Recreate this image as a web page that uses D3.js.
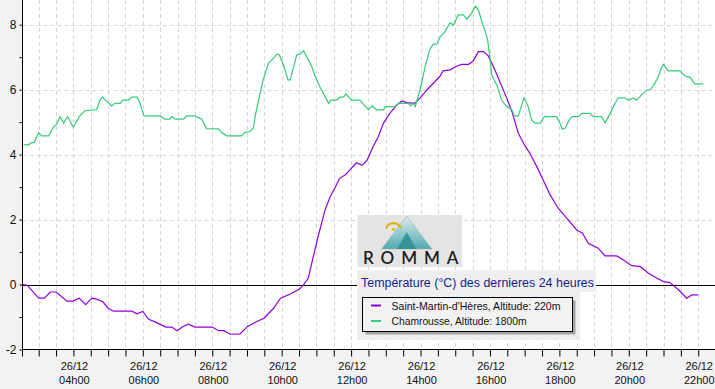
<!DOCTYPE html>
<html>
<head>
<meta charset="utf-8">
<script src="https://cdn.jsdelivr.net/npm/d3@7"></script>
<style>
  body { margin: 0; background: #f2f2f2; }
  svg { display: block; font-family: "Liberation Sans", Arial, sans-serif; }
</style>
</head>
<body>
<div id="chart"></div>
<script>
// data (time "HH:MM", temperature °C)
var smhTimes = ["02:33","02:40","03:00","03:10","03:20","03:30","03:49","03:59","04:10","04:21","04:32","04:40","04:51","05:00","05:09","05:41","05:50","06:00","06:10","06:21","06:40","06:50","06:59","07:09","07:19","07:30","08:00","08:11","08:20","08:31","08:48","09:01","09:14","09:30","09:46","09:58","10:15","10:31","10:38","10:46","10:52","11:03","11:15","11:24","11:32","11:40","11:50","11:58","12:09","12:19","12:28","12:38","12:47","12:56","13:07","13:19","13:28","13:36","13:50","13:59","14:11","14:25","14:34","14:39","14:51","15:03","15:11","15:23","15:31","15:40","15:49","15:57","16:06","16:17","16:29","16:39","16:49","16:58","17:09","17:21","17:32","17:44","17:58","18:13","18:30","18:40","18:50","19:07","19:19","19:39","19:50","20:05","20:20","20:34","20:48","21:00","21:11","21:26","21:40","21:49","22:00"];
var smhTemps = [0,-0.02,-0.42,-0.42,-0.23,-0.23,-0.51,-0.51,-0.42,-0.62,-0.42,-0.45,-0.53,-0.73,-0.82,-0.82,-0.9,-0.83,-1.07,-1.15,-1.31,-1.31,-1.42,-1.3,-1.22,-1.31,-1.31,-1.42,-1.42,-1.53,-1.52,-1.29,-1.17,-1.03,-0.73,-0.42,-0.29,-0.14,0,0.2,0.66,1.48,2.3,2.71,2.97,3.27,3.38,3.53,3.75,3.67,3.84,4.25,4.55,4.97,5.27,5.53,5.65,5.6,5.58,5.74,5.99,6.25,6.42,6.58,6.61,6.73,6.78,6.78,6.88,7.17,7.17,7.04,6.71,6.25,5.74,5.27,4.66,4.35,4.04,3.63,3.22,2.76,2.35,2.04,1.68,1.58,1.27,1.12,0.88,0.88,0.76,0.58,0.55,0.35,0.2,0.09,0.06,-0.16,-0.42,-0.32,-0.32];

var chamTimes = ["02:34","02:42","02:48","02:52","03:00","03:05","03:17","03:25","03:31","03:37","03:43","03:50","04:00","04:10","04:20","04:40","04:46","04:50","05:06","05:12","05:21","05:25","05:35","05:41","05:50","05:55","06:02","06:30","06:38","06:47","06:50","06:56","07:10","07:16","07:30","07:42","07:50","08:11","08:16","08:25","08:51","08:55","09:05","09:11","09:14","09:20","09:28","09:37","09:46","09:52","09:56","10:03","10:11","10:15","10:20","10:26","10:32","10:38","10:43","10:52","10:58","11:06","11:15","11:21","11:25","11:35","11:41","11:47","11:51","12:01","12:15","12:21","12:30","12:36","12:44","12:56","12:59","13:16","13:22","13:39","13:43","13:47","13:51","13:59","14:08","14:16","14:22","14:28","14:34","14:42","14:51","14:57","15:05","15:14","15:20","15:28","15:35","15:40","15:46","15:51","15:56","16:00","16:03","16:12","16:20","16:29","16:38","16:42","16:49","16:59","17:06","17:12","17:18","17:27","17:34","17:55","18:01","18:05","18:10","18:17","18:22","18:33","18:39","18:53","18:59","19:13","19:19","19:28","19:36","19:42","19:53","19:59","20:08","20:14","20:22","20:31","20:37","20:45","20:51","20:56","21:00","21:08","21:28","21:37","21:46","21:54","22:09"];
var chamTemps = [4.3,4.3,4.37,4.37,4.68,4.58,4.58,4.84,4.94,5.17,4.97,5.17,4.84,5.17,5.35,5.38,5.68,5.77,5.5,5.58,5.58,5.68,5.68,5.77,5.77,5.58,5.19,5.19,5.09,5.09,5.17,5.09,5.09,5.19,5.19,5.09,4.8,4.79,4.68,4.58,4.58,4.68,4.71,4.81,5.17,5.68,6.3,6.81,6.97,7.1,7.07,6.76,6.3,6.3,6.66,7.07,7.1,7.2,7.02,6.71,6.4,6.09,5.78,5.58,5.68,5.68,5.77,5.77,5.87,5.68,5.68,5.56,5.38,5.5,5.38,5.38,5.48,5.48,5.58,5.58,5.5,5.58,5.48,5.99,6.71,7.24,7.4,7.4,7.63,7.78,8.06,7.99,8.3,8.3,8.17,8.35,8.57,8.45,8.09,7.84,7.53,6.97,6.45,6.14,5.68,5.48,5.38,5.19,5.19,5.75,5.48,5.07,4.97,4.97,5.17,5.17,4.97,4.78,4.81,5.07,5.17,5.17,5.27,5.27,5.17,5.17,4.98,5.27,5.58,5.75,5.75,5.68,5.74,5.68,5.84,5.99,5.99,6.2,6.4,6.66,6.78,6.58,6.58,6.42,6.38,6.18,6.18];

var seriesNames = ["Saint-Martin-d'Hères, Altitude: 220m", "Chamrousse, Altitude: 1800m"];
var yTickValues = [-2, 0, 2, 4, 6, 8];
var dayLabel = "26/12";
var chartTitle = "Température (°C) des dernieres 24 heures";

var colorSmh = "#9000dc", colorCham = "#38c97c";

var width = 715, height = 389;
var left = 22.5, bottom = 349.5;

var parseTime = d3.timeParse("%H:%M");

var svg = d3.select("#chart").append("svg")
  .attr("width", width).attr("height", height);

svg.append("rect").attr("width", width).attr("height", height).attr("fill", "#f2f2f2");
svg.append("rect").attr("x", left).attr("y", 0)
  .attr("width", width - left).attr("height", bottom)
  .attr("fill", "#ffffff");

var x = d3.scaleTime()
  .domain([parseTime("02:32"), parseTime("22:29")])
  .range([left, width]);

var y = d3.scaleLinear()
  .domain([-2, 8])
  .range([bottom, 24.7]);

// grid
var gridColor = "#d6d6d6";
var halfHours = d3.timeMinute.every(30).range(parseTime("03:00"), parseTime("22:29"));
svg.append("g").selectAll("line").data(halfHours).enter().append("line")
  .attr("x1", function (d) { return Math.round(x(d)) + 0.5; })
  .attr("x2", function (d) { return Math.round(x(d)) + 0.5; })
  .attr("y1", 0).attr("y2", bottom)
  .attr("stroke", gridColor).attr("stroke-dasharray", "4,3");

svg.append("g").selectAll("line").data(yTickValues.filter(function (d) { return d > 0; })).enter().append("line")
  .attr("x1", left).attr("x2", width)
  .attr("y1", function (d) { return Math.round(y(d)) + 0.5; })
  .attr("y2", function (d) { return Math.round(y(d)) + 0.5; })
  .attr("stroke", gridColor).attr("stroke-dasharray", "4,3");

// zero line
svg.append("line")
  .attr("x1", left).attr("x2", width)
  .attr("y1", Math.round(y(0)) + 0.5).attr("y2", Math.round(y(0)) + 0.5)
  .attr("stroke", "#000").attr("stroke-width", 1);

// series
var smhData = smhTimes.map(function (t, i) { return { t: parseTime(t), v: smhTemps[i] }; });
var chamData = chamTimes.map(function (t, i) { return { t: parseTime(t), v: chamTemps[i] }; });

var line = d3.line()
  .x(function (d) { return x(d.t); })
  .y(function (d) { return y(d.v); });

svg.append("path").datum(smhData).attr("d", line)
  .attr("fill", "none").attr("stroke", colorSmh).attr("stroke-width", 1.2);
svg.append("path").datum(chamData).attr("d", line)
  .attr("fill", "none").attr("stroke", colorCham).attr("stroke-width", 1.2);

// y axis
var yAxis = svg.append("g")
  .attr("transform", "translate(" + left + ",0)")
  .call(d3.axisLeft(y)
    .tickValues(d3.range(-2, 9, 1))
    .tickSize(3)
    .tickFormat(function (d) { return d % 2 === 0 ? d : ""; }));
yAxis.select(".domain").remove();
yAxis.selectAll("text")
  .attr("x", -6)
  .style("font-size", "12px")
  .style("font-family", "Liberation Sans, Arial, sans-serif")
  .attr("fill", "#111");

// x axis
var xAxis = svg.append("g")
  .attr("transform", "translate(0," + bottom + ")")
  .call(d3.axisBottom(x)
    .tickValues(halfHours)
    .tickSize(7)
    .tickFormat(""));
xAxis.select(".domain").remove();

svg.append("line").attr("x1", left).attr("x2", left).attr("y1", 0).attr("y2", bottom + 7)
  .attr("stroke", "#000");
svg.append("line").attr("x1", left).attr("x2", width).attr("y1", bottom).attr("y2", bottom)
  .attr("stroke", "#000");

var labelHours = d3.timeHour.every(2).range(parseTime("04:00"), parseTime("22:01"));
var labels = svg.append("g").selectAll("g").data(labelHours).enter().append("g")
  .attr("transform", function (d) { return "translate(" + (x(d) + 1) + ",0)"; });
labels.append("text").attr("y", 370).attr("text-anchor", "middle")
  .style("font-size", "11px").attr("fill", "#111").text(dayLabel);
labels.append("text").attr("y", 384).attr("text-anchor", "middle")
  .style("font-size", "11px").attr("fill", "#111")
  .text(function (d) { return d3.timeFormat("%Hh%M")(d); });

// logo
var logo = svg.append("g");
logo.append("rect").attr("x", 357.5).attr("y", 215).attr("width", 104.5).attr("height", 52)
  .attr("fill", "#e4e4e4");
var grad = svg.append("defs").append("linearGradient").attr("id", "mtn")
  .attr("x1", 0).attr("y1", 0).attr("x2", 0).attr("y2", 1);
grad.append("stop").attr("offset", "0%").attr("stop-color", "#dfeef0");
grad.append("stop").attr("offset", "100%").attr("stop-color", "#4fa9ae");
logo.append("polygon").attr("points", "406.7,216 381.5,249 432,249")
  .attr("fill", "url(#mtn)").attr("stroke", "#aab6b8").attr("stroke-width", 0.7);
logo.append("polygon").attr("points", "406.7,232 397,249 416.5,249")
  .attr("fill", "#37959a");
logo.append("path").attr("d", "M386,228.5 A8,8 0 0 1 401,228.5")
  .attr("fill", "none").attr("stroke", "#d9b600").attr("stroke-width", 2);
logo.append("circle").attr("cx", 393.5).attr("cy", 229.5).attr("r", 1.4).attr("fill", "#d9b600");
logo.append("text").attr("x", 363).attr("y", 263.5)
  .attr("textLength", 95.5).attr("lengthAdjust", "spacing")
  .style("font-family", "Lato, 'Open Sans', sans-serif")
  .style("font-size", "17px").style("font-weight", "600")
  .attr("fill", "#1e1e1e").text("ROMMA");

// title + legend
var leg = svg.append("g");
leg.append("rect").attr("x", 357).attr("y", 270.5).attr("width", 239).attr("height", 21.5).attr("fill", "#eeeeee");
leg.append("rect").attr("x", 357).attr("y", 292).attr("width", 223).attr("height", 48).attr("fill", "#eeeeee");
leg.append("text").attr("x", 361).attr("y", 286.5)
  .attr("textLength", 233).attr("lengthAdjust", "spacingAndGlyphs")
  .style("font-size", "12.5px").attr("fill", "#1c1c8c").text(chartTitle);

leg.append("rect").attr("x", 365.5).attr("y", 300.5).attr("width", 210).attr("height", 34).attr("fill", "#a3a3a3");
leg.append("rect").attr("x", 362.5).attr("y", 297.5).attr("width", 210).attr("height", 34)
  .attr("fill", "#f2f2f2").attr("stroke", "#000");

var legendColors = [colorSmh, colorCham];
var legendWidths = [169, 135];
seriesNames.forEach(function (name, i) {
  var yy = 305.5 + i * 15.5;
  leg.append("line").attr("x1", 371).attr("x2", 381).attr("y1", yy).attr("y2", yy)
    .attr("stroke", legendColors[i]).attr("stroke-width", 2);
  leg.append("text").attr("x", 391.5).attr("y", yy + 4)
    .attr("textLength", legendWidths[i]).attr("lengthAdjust", "spacingAndGlyphs")
    .style("font-size", "11px").attr("fill", "#111").text(name);
});
</script>
</body>
</html>
